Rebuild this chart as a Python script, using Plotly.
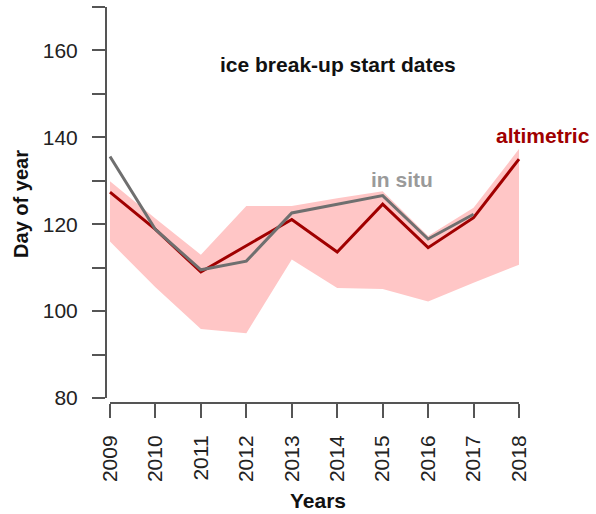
import plotly.graph_objects as go

# Ice break-up start dates (day of year) per year
years = [2009, 2010, 2011, 2012, 2013, 2014, 2015, 2016, 2017, 2018]
altimetric = [127.4, 118.8, 109.0, 115.0, 121.1, 113.6, 124.6, 114.6, 121.5, 135.0]
band_upper = [129.9, 121.3, 113.0, 124.2, 124.2, 126.0, 127.6, 117.3, 123.8, 137.3]
band_lower = [116.0, 105.5, 95.9, 94.9, 111.9, 105.3, 105.1, 102.2, 106.5, 110.7]
insitu_years = [2009, 2010, 2011, 2012, 2013, 2014, 2015, 2016, 2017]
insitu = [135.6, 118.8, 109.5, 111.5, 122.6, 124.6, 126.6, 116.6, 122.3]

y_tickvals = [80, 90, 100, 110, 120, 130, 140, 150, 160, 170]
y_ticktext = ["80", "", "100", "", "120", "", "140", "", "160", ""]

FONT = "Liberation Sans, Arial, sans-serif"
AXIS_COLOR = "#555555"
RED = "#a00000"
GREY = "#6f6f6f"
PINK = "#ffc6c6"

fig = go.Figure()

# uncertainty envelope of the altimetric estimate
fig.add_trace(go.Scatter(x=years, y=band_lower, mode="lines",
                         line=dict(width=0, color=PINK), hoverinfo="skip",
                         showlegend=False))
fig.add_trace(go.Scatter(x=years, y=band_upper, mode="lines",
                         line=dict(width=0, color=PINK), fill="tonexty",
                         fillcolor=PINK, hoverinfo="skip", showlegend=False))

fig.add_trace(go.Scatter(x=years, y=altimetric, mode="lines",
                         line=dict(color=RED, width=3), name="altimetric",
                         showlegend=False))
fig.add_trace(go.Scatter(x=insitu_years, y=insitu, mode="lines",
                         line=dict(color=GREY, width=3), name="in situ",
                         showlegend=False))

# detached axis lines
fig.add_shape(type="line", xref="x", yref="paper", x0=2009, x1=2018, y0=0, y1=0,
              line=dict(color=AXIS_COLOR, width=2))
fig.add_shape(type="line", xref="paper", yref="y", x0=0, x1=0, y0=80, y1=170,
              line=dict(color=AXIS_COLOR, width=2))

fig.add_annotation(x=2014.02, y=156.7, xref="x", yref="y",
                   text="ice break-up start dates", showarrow=False,
                   font=dict(family=FONT, size=21, color="#111111", weight="bold"))
fig.add_annotation(x=2015.43, y=130.3, xref="x", yref="y", text="in situ",
                   showarrow=False,
                   font=dict(family=FONT, size=21, color="#9a9a9a", weight="bold"))
# series label sits just past the right end of the x range
fig.add_annotation(x=1.031, y=0.671, xref="paper", yref="paper", text="altimetric",
                   xanchor="center", yanchor="middle", showarrow=False,
                   font=dict(family=FONT, size=21, color=RED, weight="bold"))

fig.update_layout(
    width=596, height=514,
    margin=dict(l=106, r=66, t=5, b=111),
    paper_bgcolor="white", plot_bgcolor="white",
    font=dict(family=FONT, size=21, color="#222222"),
    xaxis=dict(
        range=[2008.912, 2018.242], tickvals=years,
        ticktext=[str(y) for y in years], tickangle=-90,
        ticks="outside", ticklen=14, tickwidth=2, tickcolor=AXIS_COLOR,
        ticklabelstandoff=9,
        showgrid=False, zeroline=False, showline=False,
        title=dict(text="<b>Years</b>", standoff=12,
                   font=dict(family=FONT, size=21, color="#111111")),
    ),
    yaxis=dict(
        range=[78.85, 170.46], tickvals=y_tickvals, ticktext=y_ticktext,
        ticks="outside", ticklen=13, tickwidth=2, tickcolor=AXIS_COLOR,
        ticklabelstandoff=10,
        showgrid=False, zeroline=False, showline=False,
        title=dict(text="<b>Day of year</b>", standoff=8,
                   font=dict(family=FONT, size=20, color="#111111")),
    ),
)

fig.write_html("out.html")
